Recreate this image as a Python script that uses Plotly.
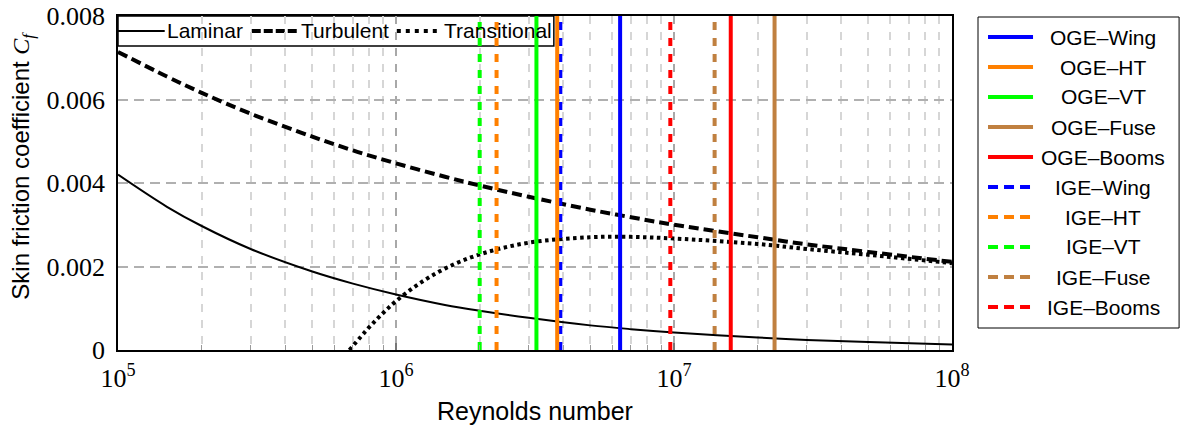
import plotly.graph_objects as go

# ---- data -------------------------------------------------------------
re_grid = [1e5, 1.5e5, 2e5, 3e5, 5e5, 7e5, 1e6, 1.5e6, 2e6, 3e6, 5e6, 7e6,
           1e7, 2e7, 3e7, 5e7, 1e8]
cf_laminar = [0.00420, 0.00343, 0.00297, 0.00242, 0.00188, 0.00159, 0.00133,
              0.00108, 0.00094, 0.00077, 0.00059, 0.00050, 0.00042, 0.00030,
              0.00024, 0.00019, 0.00013]
cf_turbulent = [0.00714, 0.00655, 0.00616, 0.00566, 0.00511, 0.00478, 0.00447,
                0.00415, 0.00394, 0.00367, 0.00336, 0.00318, 0.00300, 0.00270,
                0.00253, 0.00235, 0.00211]

re_trans = [6.8e5, 8e5, 9e5, 1e6, 1.2e6, 1.5e6, 2e6, 3e6, 5e6, 7e6, 1e7, 2e7,
            3e7, 5e7, 1e8]
cf_trans = [0.0, 0.00054, 0.00089, 0.00117, 0.00157, 0.00195, 0.00229,
            0.00257, 0.00270, 0.00271, 0.00267, 0.00254, 0.00242, 0.00228,
            0.00208]

components = ["Wing", "HT", "VT", "Fuse", "Booms"]
comp_colors = ["#0000FF", "#FF8000", "#00FF00", "#C08040", "#FF0000"]
re_oge = [6.4e6, 3.8e6, 3.2e6, 2.3e7, 1.6e7]
re_ige = [3.9e6, 2.3e6, 2.0e6, 1.4e7, 9.7e6]

x_major = [1e5, 1e6, 1e7, 1e8]
x_major_text = ["10<sup>5</sup>", "10<sup>6</sup>", "10<sup>7</sup>", "10<sup>8</sup>"]
x_minor = [m * d for d in (1e5, 1e6, 1e7) for m in range(2, 10)]
y_ticks = [0, 0.002, 0.004, 0.006, 0.008]
y_tick_text = ["0", "0.002", "0.004", "0.006", "0.008"]
y_range = [0, 0.008]

# ---- figure -----------------------------------------------------------
SANS = "Liberation Sans, Arial, sans-serif"
SERIF = "Liberation Serif, Times New Roman, serif"

fig = go.Figure()

fig.add_trace(go.Scatter(x=re_grid, y=cf_laminar, mode="lines",
                         line=dict(color="black", width=2, shape="spline"),
                         showlegend=False))
fig.add_trace(go.Scatter(x=re_grid, y=cf_turbulent, mode="lines",
                         line=dict(color="black", width=4, dash="10px,5px",
                                   shape="spline"),
                         showlegend=False))
fig.add_trace(go.Scatter(x=re_trans, y=cf_trans, mode="lines",
                         line=dict(color="black", width=4, dash="3.5px,3.5px",
                                   shape="spline"),
                         showlegend=False))

for name, col, re_o, re_i in zip(components, comp_colors, re_oge, re_ige):
    fig.add_trace(go.Scatter(x=[re_o, re_o], y=y_range, mode="lines",
                             line=dict(color=col, width=4),
                             name="OGE–" + name, showlegend=False))
    fig.add_trace(go.Scatter(x=[re_i, re_i], y=y_range, mode="lines",
                             line=dict(color=col, width=4, dash="8px,8px"),
                             name="IGE–" + name, showlegend=False))

# plot area in pixels, used to place the hand-built legends
L, R, T, B = 118.3, 952.0, 16.0, 350.0


def px(xp):
    return (xp - L) / (R - L)


def py(yp):
    return (B - yp) / (B - T)


shapes = []
annotations = []

# inline line-style legend (top left), drawn between grid and traces
shapes.append(dict(type="rect", xref="paper", yref="paper", layer="between",
                   x0=0, x1=px(554), y0=py(46), y1=1,
                   fillcolor="white", line=dict(color="black", width=1.5)))
row_y = py(31)
shapes.append(dict(type="line", xref="paper", yref="paper", layer="between",
                   x0=0, x1=px(165), y0=row_y, y1=row_y,
                   line=dict(color="black", width=2)))
shapes.append(dict(type="line", xref="paper", yref="paper", layer="between",
                   x0=px(252), x1=px(297), y0=row_y, y1=row_y,
                   line=dict(color="black", width=4, dash="9px,3px")))
shapes.append(dict(type="line", xref="paper", yref="paper", layer="between",
                   x0=px(397), x1=px(441), y0=row_y, y1=row_y,
                   line=dict(color="black", width=4, dash="4px,5px")))
for label, xl in (("Laminar", 165), ("Turbulent", 299), ("Transitional", 442)):
    annotations.append(dict(text=label, xref="paper", yref="paper",
                            x=px(xl), y=row_y, xanchor="left", yanchor="middle",
                            showarrow=False,
                            font=dict(family=SANS, size=21, color="black")))

# component legend (right)
shapes.append(dict(type="rect", xref="paper", yref="paper", layer="above",
                   x0=px(978), x1=px(1179), y0=py(328), y1=py(17),
                   fillcolor="white", line=dict(color="black", width=1)))
entries = ([("OGE–" + n, c, "solid") for n, c in zip(components, comp_colors)] +
           [("IGE–" + n, c, "dash") for n, c in zip(components, comp_colors)])
for i, (label, col, style) in enumerate(entries):
    yy = py(37 + 30 * i)
    if style == "solid":
        shapes.append(dict(type="line", xref="paper", yref="paper", layer="above",
                           x0=px(988), x1=px(1033), y0=yy, y1=yy,
                           line=dict(color=col, width=4)))
    else:
        shapes.append(dict(type="line", xref="paper", yref="paper", layer="above",
                           x0=px(988), x1=px(1030), y0=yy, y1=yy,
                           line=dict(color=col, width=4, dash="10px,6px")))
    annotations.append(dict(text=label, xref="paper", yref="paper",
                            x=px(1103), y=yy, xanchor="center", yanchor="middle",
                            showarrow=False,
                            font=dict(family=SANS, size=21, color="black")))

# axis titles
annotations.append(dict(text="Reynolds number", xref="paper", yref="paper",
                        x=0.5, y=py(411), xanchor="center", yanchor="middle",
                        showarrow=False,
                        font=dict(family=SANS, size=25, color="black")))
annotations.append(dict(
    text=("Skin friction coefficient "
          "<span style=\"font-family:Liberation Serif\"><i>C<sub>f</sub></i></span>"),
    xref="paper", yref="paper", x=px(22), y=py(166), textangle=-90,
    xanchor="center", yanchor="middle", showarrow=False,
    font=dict(family=SANS, size=24, color="black")))

fig.update_layout(
    width=1187, height=432,
    margin=dict(l=L, r=1187 - R, t=T, b=432 - B, autoexpand=False),
    paper_bgcolor="white", plot_bgcolor="white",
    shapes=shapes, annotations=annotations, showlegend=False,
)

fig.update_xaxes(
    type="log", range=[5, 8], automargin=False,
    tickmode="array", tickvals=x_major, ticktext=x_major_text,
    tickfont=dict(family=SERIF, size=26, color="black"),
    ticks="inside", ticklen=7, tickwidth=1.5, tickcolor="#777",
    ticklabelstandoff=4,
    showgrid=True, gridcolor="#a8a8a8", griddash="8px,8px", gridwidth=1.5,
    minor=dict(tickmode="array", tickvals=x_minor, showgrid=True,
               gridcolor="#d6d6d6", griddash="8px,8px", gridwidth=1.5,
               ticks="inside", ticklen=5, tickcolor="#999", tickwidth=1.2),
    showline=True, linecolor="black", linewidth=1.5, mirror=True,
    zeroline=False,
)
fig.update_yaxes(
    range=y_range, automargin=False,
    tickmode="array", tickvals=y_ticks, ticktext=y_tick_text,
    tickfont=dict(family=SERIF, size=26, color="black"),
    ticks="", ticklabelstandoff=6,
    showgrid=True, gridcolor="#b0b0b0", griddash="10px,6px", gridwidth=1.5,
    showline=True, linecolor="black", linewidth=1.5, mirror=True,
    zeroline=False,
)

fig.write_html("out.html")
